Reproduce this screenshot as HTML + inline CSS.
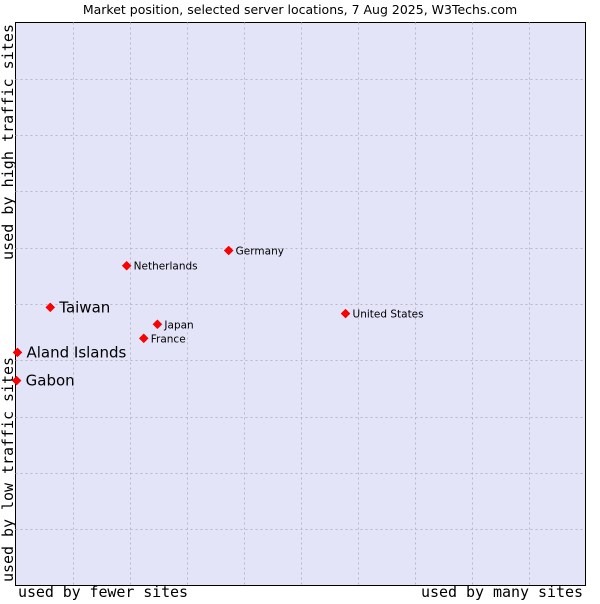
<!DOCTYPE html>
<html><head><meta charset="utf-8"><style>
body{margin:0;background:#fff;width:600px;height:600px;overflow:hidden;font-family:"DejaVu Sans","Liberation Sans",sans-serif}
</style></head><body>
<svg width="600" height="600">
<text x="300" y="14" text-anchor="middle" font-size="12.5" fill="#000">Market position, selected server locations, 7 Aug 2025, W3Techs.com</text>
<rect x="15.5" y="22.5" width="570" height="563" fill="#e3e4f8" stroke="#000"/>
<g id="grid"></g>
<g id="pts"></g>
<text x="18" y="597" textLength="170" font-family="DejaVu Sans Mono,Liberation Mono,monospace" font-size="15">used by fewer sites</text>
<text x="421" y="597" textLength="162" font-family="DejaVu Sans Mono,Liberation Mono,monospace" font-size="15">used by many sites</text>
<text transform="translate(13,582) rotate(-90)" textLength="225" font-family="DejaVu Sans Mono,Liberation Mono,monospace" font-size="15">used by low traffic sites</text>
<text transform="translate(13,260) rotate(-90)" textLength="236" font-family="DejaVu Sans Mono,Liberation Mono,monospace" font-size="15">used by high traffic sites</text>
</svg>
<script>
const names=["Taiwan","Aland Islands","Gabon","Netherlands","Germany","Japan","France","United States"];
const xs=[6.1,0.35,0.2,19.5,37.4,24.9,22.5,57.9];
const ys=[49.4,41.4,36.4,56.8,59.5,46.4,43.9,48.3];
const big=[true,true,true,false,false,false,false,false];
const L=15.5,T=22.5,W=570,H=563;
const sx=v=>L+v/100*W, sy=v=>T+H-v/100*H;
const ns="http://www.w3.org/2000/svg";
const g=document.getElementById('grid');
for(let i=1;i<10;i++){
 let a=document.createElementNS(ns,'line');
 
 
 const x=Math.round(sx(i*10))+0.5;
 a.setAttribute('x1',x);a.setAttribute('x2',x);a.setAttribute('y1',T);a.setAttribute('y2',T+H);
 a.setAttribute('stroke','#b8b8c0');a.setAttribute('stroke-dasharray','2,3');g.appendChild(a);
 let b=document.createElementNS(ns,'line');
 
 
 const y=Math.round(sy(i*10))+0.5;
 b.setAttribute('x1',L);b.setAttribute('x2',L+W);b.setAttribute('y1',y);b.setAttribute('y2',y);
 b.setAttribute('stroke','#b8b8c0');b.setAttribute('stroke-dasharray','2,3');g.appendChild(b);
}
const p=document.getElementById('pts');
names.forEach((n,i)=>{
 const x=sx(xs[i]),y=sy(ys[i]);
 const d=document.createElementNS(ns,'path');
 
 
 d.setAttribute('d',`M${x},${y-4.5}L${x+4.5},${y}L${x},${y+4.5}L${x-4.5},${y}Z`);
 d.setAttribute('fill','#f00');d.setAttribute('stroke','#c00');d.setAttribute('stroke-width','0.5');p.appendChild(d);
 const t=document.createElementNS(ns,'text');
 
 
 t.setAttribute('x',x+(big[i]?9:7));t.setAttribute('y',y+(big[i]?5:4));
 t.setAttribute('font-size',big[i]?'15':'10.5');t.textContent=n;p.appendChild(t);
});
</script>
</body></html>
